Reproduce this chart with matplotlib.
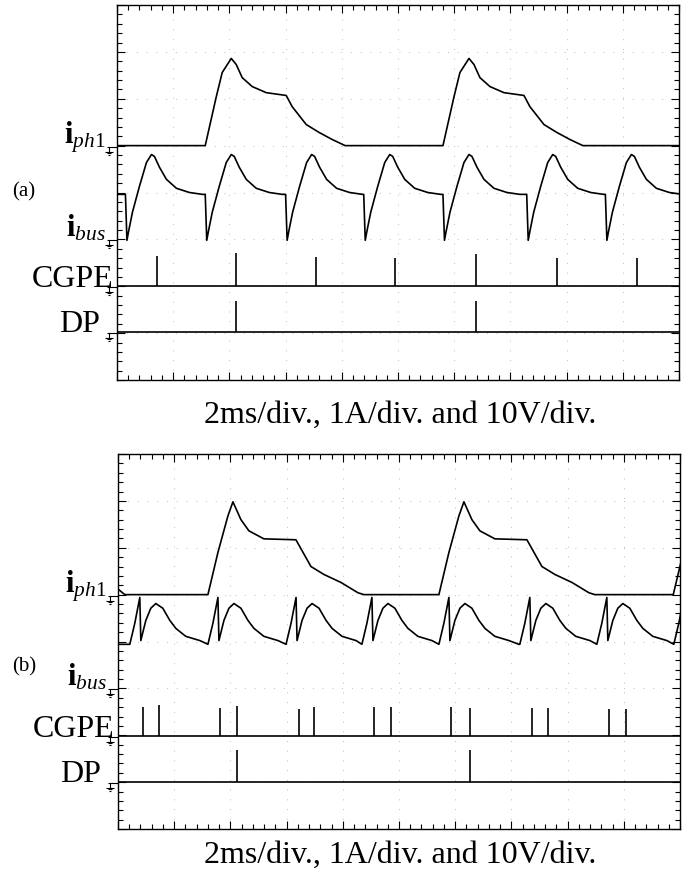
import matplotlib
matplotlib.use("Agg")
from matplotlib import pyplot as plt
from matplotlib.path import Path
from matplotlib.ticker import MultipleLocator

plt.rcParams['font.family'] = ['Liberation Serif', 'DejaVu Serif']
plt.rcParams['mathtext.fontset'] = 'custom'
plt.rcParams['mathtext.rm'] = 'Liberation Serif'
plt.rcParams['mathtext.it'] = 'Liberation Serif:italic'
plt.rcParams['mathtext.bf'] = 'Liberation Serif:bold'

# graticule: 10 x 8 divisions, values below are in divisions
CAPTION = "2ms/div., 1A/div. and 10V/div."
LABELS = [r'$\mathbf{i}_{\mathit{ph1}}$', r'$\mathbf{i}_{\mathit{bus}}$', 'CGPE', 'DP']

# ---- panel (a) ----
A_PH_GROUND = 5.0
A_PH_STARTS = [1.57, 5.80]
A_PH_DX = [0, 0.196, 0.302, 0.463, 0.552, 0.658, 0.836, 1.085, 1.441, 1.548, 1.797, 2.028, 2.26, 2.49]
A_PH_DY = [0, 1.04, 1.56, 1.86, 1.73, 1.45, 1.26, 1.13, 1.07, 0.83, 0.45, 0.28, 0.13, 0.0]

A_BUS_GROUND = 3.0
A_BUS_BASE = 0.96
A_BUS_STARTS = [0.15, 1.57, 3.0, 4.39, 5.80, 7.29, 8.69]
A_BUS_DX = [0, 0.027, 0.053, 0.125, 0.249, 0.374, 0.463, 0.516, 0.605, 0.73, 0.907, 1.139, 1.37]
A_BUS_DY = [0.96, -0.02, 0.15, 0.58, 1.13, 1.64, 1.81, 1.77, 1.54, 1.28, 1.09, 1.0, 0.96]

A_CG_GROUND = 2.0
A_CG_X = [0.71, 2.12, 3.54, 4.95, 6.39, 7.83, 9.25]
A_CG_H = [0.64, 0.72, 0.62, 0.60, 0.68, 0.60, 0.60]

A_DP_GROUND = 1.02
A_DP_X = [2.12, 6.39]
A_DP_H = [0.66, 0.66]

# ---- panel (b) ----
B_PH_GROUND = 5.0
B_PH_LEAD_X = [0.0, 0.12]
B_PH_LEAD_Y = [0.12, 0.0]
B_PH_STARTS = [1.60, 5.71, 9.88]
B_PH_DX = [0, 0.178, 0.356, 0.445, 0.587, 0.73, 0.996, 1.566, 1.833, 2.064, 2.367, 2.669, 2.776]
B_PH_DY = [0, 0.90, 1.68, 1.98, 1.60, 1.36, 1.19, 1.17, 0.60, 0.43, 0.26, 0.04, 0.0]

B_BUS_GROUND = 3.0
B_BUS_BASE = 0.94
B_BUS_STARTS = [0.21, 1.60, 2.99, 4.34, 5.71, 7.15, 8.52, 9.89]
B_BUS_DX = [0, 0.089, 0.178, 0.196, 0.285, 0.374, 0.463, 0.587, 0.712, 0.819, 0.996, 1.246, 1.423]
B_BUS_DY = [0.94, 1.39, 1.94, 1.02, 1.45, 1.71, 1.81, 1.71, 1.45, 1.28, 1.11, 1.02, 0.94]

B_CG_GROUND = 1.98
B_CG_X = [0.44, 0.73, 1.81, 2.12, 3.22, 3.49, 4.56, 4.86, 5.92, 6.26, 7.37, 7.65, 8.73, 9.04]
B_CG_H = [0.62, 0.66, 0.60, 0.64, 0.58, 0.62, 0.62, 0.62, 0.62, 0.60, 0.60, 0.60, 0.58, 0.58]

B_DP_GROUND = 1.0
B_DP_X = [2.12, 6.26]
B_DP_H = [0.68, 0.68]


def pulse_trace(ground, base, starts, dx, dy, lead_x=None, lead_y=None):
    # join the read pulse shape at every start time, baseline between them
    if lead_x:
        xs, ys = list(lead_x), [ground + v for v in lead_y]
    else:
        xs, ys = [0.0], [ground + base]
    for i, s in enumerate(starts):
        nxt = starts[i + 1] if i + 1 < len(starts) else 99
        for a, b in zip(dx, dy):
            if s + a < nxt:
                xs.append(s + a)
                ys.append(ground + b)
    if xs[-1] < 10:
        xs.append(10)
        ys.append(ground + base)
    return xs, ys


# ground sign: short bar to the frame, stem, three shrinking bars
gnd = Path([(-0.2, 0), (1.0, 0), (0, 0), (0, -0.6),
            (-0.5, -0.6), (0.5, -0.6), (-0.3, -0.85), (0.3, -0.85),
            (-0.1, -1.1), (0.1, -1.1)],
           [Path.MOVETO, Path.LINETO, Path.MOVETO, Path.LINETO,
            Path.MOVETO, Path.LINETO, Path.MOVETO, Path.LINETO,
            Path.MOVETO, Path.LINETO])


def draw_panel(ax, ph, bus, cg, dp, grounds, label_x):
    ax.set_xlim(0, 10)
    ax.set_ylim(0, 8)
    ax.xaxis.set_major_locator(MultipleLocator(1))
    ax.xaxis.set_minor_locator(MultipleLocator(0.2))
    ax.yaxis.set_major_locator(MultipleLocator(1))
    ax.yaxis.set_minor_locator(MultipleLocator(0.2))
    ax.tick_params(which='both', direction='in', top=True, right=True,
                   labelbottom=False, labelleft=False, width=0.8, color='black')
    ax.tick_params(which='major', length=6)
    ax.tick_params(which='minor', length=3.5)
    ax.grid(True, which='major', color='#bdbdbd', linewidth=0.7,
            linestyle=(0, (1, 9)))
    for sp in ax.spines.values():
        sp.set_linewidth(1.0)

    ax.plot(ph[0], ph[1], color='black', lw=1.2)
    ax.plot(bus[0], bus[1], color='black', lw=1.2)
    for g, xs, hs in [cg, dp]:
        ax.plot([0, 10], [g, g], color='black', lw=1.2)
        ax.vlines(xs, g, [g + h for h in hs], color='black', lw=1.2)

    for g in grounds:
        ax.plot([-0.14], [g - 0.02], marker=gnd, markersize=12, color='black',
                markeredgewidth=0.8, linestyle='none', clip_on=False)

    ax.text(label_x[0], grounds[0] + 0.06, LABELS[0], fontsize=22,
            ha='right', va='baseline', clip_on=False)
    ax.text(label_x[1], grounds[1] + 0.08, LABELS[1], fontsize=22,
            ha='right', va='baseline', clip_on=False)
    ax.text(label_x[2], grounds[2], LABELS[2], fontsize=23,
            ha='right', va='baseline', clip_on=False)
    ax.text(label_x[3], grounds[3] + 0.02, LABELS[3], fontsize=23,
            ha='right', va='baseline', clip_on=False)


fig = plt.figure(figsize=(6.83, 8.78), dpi=100)
ax_a = fig.add_axes([117 / 683, 1 - 381 / 878, 562 / 683, 375 / 878])
ax_b = fig.add_axes([118 / 683, 1 - 830 / 878, 562 / 683, 375 / 878])

draw_panel(ax_a,
           pulse_trace(A_PH_GROUND, 0.0, A_PH_STARTS, A_PH_DX, A_PH_DY),
           pulse_trace(A_BUS_GROUND, A_BUS_BASE, A_BUS_STARTS, A_BUS_DX, A_BUS_DY),
           (A_CG_GROUND, A_CG_X, A_CG_H),
           (A_DP_GROUND, A_DP_X, A_DP_H),
           [A_PH_GROUND, A_BUS_GROUND, A_CG_GROUND, A_DP_GROUND],
           [-0.2, -0.2, -0.07, -0.30])

draw_panel(ax_b,
           pulse_trace(B_PH_GROUND, 0.0, B_PH_STARTS, B_PH_DX, B_PH_DY,
                       B_PH_LEAD_X, B_PH_LEAD_Y),
           pulse_trace(B_BUS_GROUND, B_BUS_BASE, B_BUS_STARTS, B_BUS_DX, B_BUS_DY),
           (B_CG_GROUND, B_CG_X, B_CG_H),
           (B_DP_GROUND, B_DP_X, B_DP_H),
           [B_PH_GROUND, B_BUS_GROUND, B_CG_GROUND, B_DP_GROUND],
           [-0.2, -0.2, -0.07, -0.30])

fig.text(24 / 683, 1 - 192 / 878, "(a)", fontsize=15, ha='center', va='center')
fig.text(24 / 683, 1 - 667 / 878, "(b)", fontsize=15, ha='center', va='center')
fig.text(400 / 683, 1 - 415 / 878, CAPTION, fontsize=23, ha='center', va='center')
fig.text(400 / 683, 1 - 855 / 878, CAPTION, fontsize=23, ha='center', va='center')

fig.savefig("out.png", dpi=100)
